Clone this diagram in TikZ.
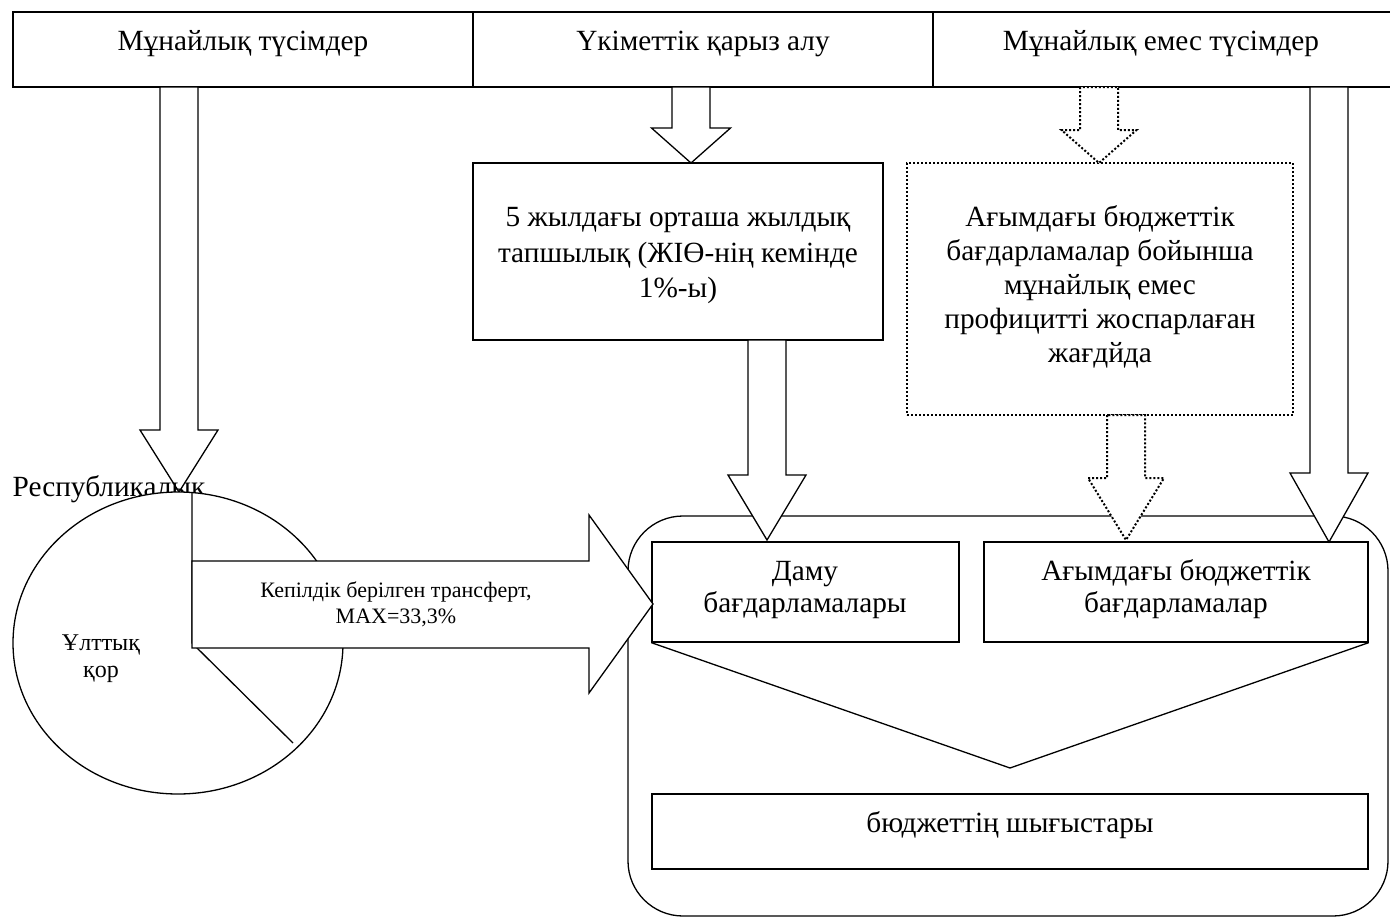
\documentclass[tikz,border=0pt]{standalone}
\usepackage{fontspec}
\setmainfont{Liberation Serif}
\newcommand\blockdn[7]{%
  \draw[#1] (#2-#6,#3) -- (#2-#6,#4) -- (#2-#7,#4) -- (#2,#5) -- (#2+#7,#4) -- (#2+#6,#4) -- (#2+#6,#3) -- cycle;}
\begin{document}
\begin{tikzpicture}[x=1pt,y=-1pt,line width=1.3pt,line join=miter]
\tikzset{
  box/.style={draw=black,fill=white,line width=1.3pt,inner sep=0pt,rectangle},
  dotbox/.style={draw=black,fill=white,line width=2pt,dash pattern=on 2pt off 2pt,inner sep=0pt,rectangle},
  solidarrow/.style={draw=black,fill=white,line width=1.3pt},
  dotarrow/.style={draw=black,fill=white,line width=2pt,dash pattern=on 2pt off 2pt},
  txt/.style={font=\fontsize{29.3}{34}\selectfont,anchor=base,inner sep=0pt},
  midtxt/.style={font=\fontsize{24}{28}\selectfont,anchor=base,inner sep=0pt},
  smalltxt/.style={font=\fontsize{22}{26}\selectfont,anchor=base,inner sep=0pt},
}
\useasboundingbox (0,0) rectangle (1390,918);
\fill[white] (0,0) rectangle (1390,918);

% top row
\node[box,minimum width=460pt,minimum height=75pt] (oil) at (243,49.5) {};
\node[box,minimum width=460pt,minimum height=75pt] (loan) at (703,49.5) {};
\node[box,minimum width=460pt,minimum height=75pt] (nonoil) at (1163,49.5) {};

% middle row
\node[box,minimum width=410pt,minimum height=177pt] (deficit) at (678,251.5) {};
\node[dotbox,minimum width=386pt,minimum height=252pt] (surplus) at (1100,289) {};

% container
\draw[line width=1.3pt,rounded corners=55pt] (628,516) rectangle (1388,916);
\node[box,minimum width=307pt,minimum height=100pt] (dev) at (805.5,592) {};
\node[box,minimum width=384pt,minimum height=100pt] (cur) at (1176,592) {};
\node[box,minimum width=716pt,minimum height=75pt] (exp) at (1010,831.5) {};
\coordinate (vtip) at (1010,768);
\draw[line width=1.3pt] (dev.south west) -- (vtip) -- (cur.south east);

% left down arrow
\blockdn{solidarrow}{179}{87}{430}{492}{19}{39}

% Republic fund
\node[txt,anchor=base west] (rep) at (12,496) {Республикалық};
\draw[line width=1.3pt,fill=white] (178,643) ellipse [x radius=165, y radius=151];
\coordinate (pc) at (192,643);
\draw[line width=1.3pt] (192,492.5) -- (pc) -- (293,743);
\node[midtxt] (fund1) at (101,650) {Ұлттық};
\node[midtxt] (fund2) at (101,677) {қор};

% transfer arrow
\draw[solidarrow] (192,561) -- (589,561) -- (589,515) -- (653,604) -- (589,693) -- (589,648) -- (192,648) -- cycle;
\node[smalltxt] at (396,597) {Кепілдік берілген трансферт,};
\node[smalltxt] at (396,623) {MAX=33,3\%};

% down arrows
\blockdn{solidarrow}{691}{87}{128}{163}{19}{39.5}
\blockdn{solidarrow}{767}{340}{475}{540}{19}{39}
\blockdn{dotarrow}{1099}{87}{130}{163}{19}{37.5}
\blockdn{dotarrow}{1126}{415}{478}{540}{19}{38}
\blockdn{solidarrow}{1329}{87}{473}{542}{19}{39}

% texts
\node[txt] at (243,50) {Мұнайлық түсімдер};
\node[txt] at (703,50) {Үкіметтік қарыз алу};
\node[txt] at (1161,50) {Мұнайлық емес түсімдер};

\node[txt] at (678,226) {5 жылдағы орташа жылдық};
\node[txt] at (678,262) {тапшылық (ЖІӨ-нің кемінде};
\node[txt] at (678,297) {1\%-ы)};

\node[txt] at (1100,226) {Ағымдағы бюджеттік};
\node[txt] at (1100,260) {бағдарламалар бойынша};
\node[txt] at (1100,294) {мұнайлық емес};
\node[txt] at (1100,328) {профицитті жоспарлаған};
\node[txt] at (1100,362) {жағдйда};

\node[txt] at (805,580) {Даму};
\node[txt] at (805,612) {бағдарламалары};
\node[txt] at (1176,580) {Ағымдағы бюджеттік};
\node[txt] at (1176,612) {бағдарламалар};

\node[txt] at (1010,832) {бюджеттің шығыстары};
\end{tikzpicture}
\end{document}
